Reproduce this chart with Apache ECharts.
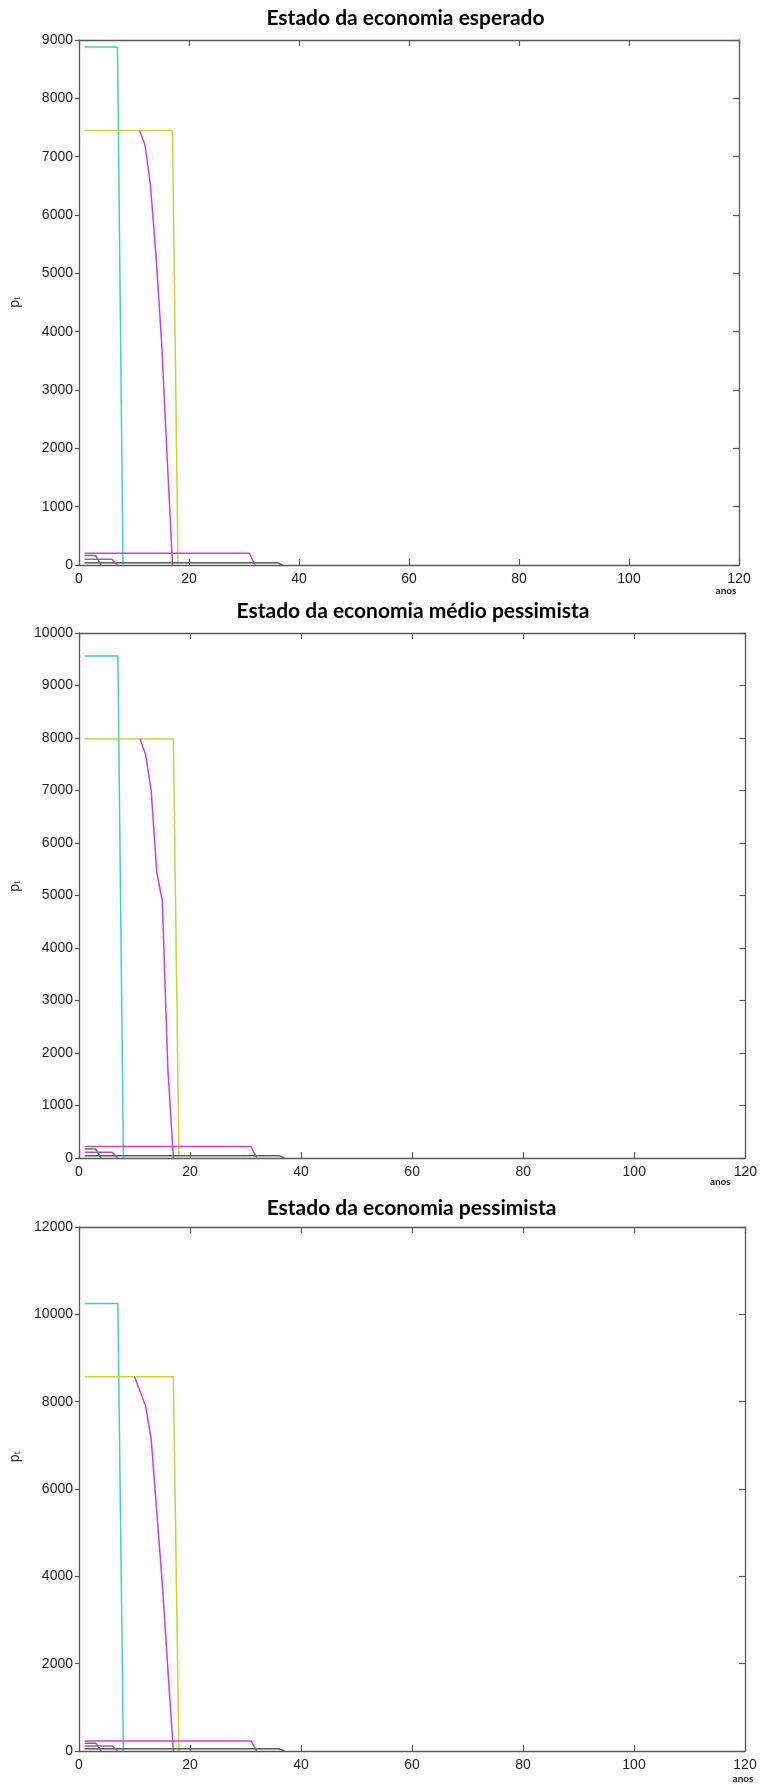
<!DOCTYPE html>
<html>
<head>
<meta charset="utf-8">
<script src="https://cdn.jsdelivr.net/npm/echarts@6/dist/echarts.min.js"></script>
<style>
  html, body { margin: 0; padding: 0; background: #fff; }
  #main-chart { width: 760px; height: 1787px; }
</style>
</head>
<body>
<div id="main-chart"></div>
<script>
const titles = [
  "Estado da economia esperado",
  "Estado da economia médio pessimista",
  "Estado da economia pessimista"
];
const xName = "anos";
const xMax = 120;
const xStep = 20;
const yMaxes = [9000, 10000, 12000];
const ySteps = [1000, 1000, 2000];

// [ano, pt], one array per line
const cyanEsperado = [[1, 8880], [7, 8880], [8, 0]];
const yellowEsperado = [[1, 7450], [17, 7450], [18, 0]];
const magentaEsperado = [[11, 7450], [12, 7200], [13, 6500], [14, 5300], [15, 3850], [16, 1900], [17, 0]];
const magentaTopEsperado = [[1, 200], [31, 200], [32, 0]];
const magentaLowEsperado = [[1, 100], [6, 100], [7, 0]];
const greenEsperado = [[1, 165], [3, 165], [4, 0]];
const grayEsperado = [[1, 40], [36, 40], [37, 0]];

const cyanMedio = [[1, 9560], [7, 9560], [8, 0]];
const yellowMedio = [[1, 7980], [17, 7980], [18, 0]];
const magentaMedio = [[11, 7980], [12, 7680], [13, 7000], [14, 5450], [15, 4900], [16, 1700], [17, 0]];
const magentaTopMedio = [[1, 220], [31, 220], [32, 0]];
const magentaLowMedio = [[1, 110], [6, 110], [7, 0]];
const greenMedio = [[1, 170], [3, 170], [4, 0]];
const grayMedio = [[1, 45], [36, 45], [37, 0]];

const cyanPessimista = [[1, 10250], [7, 10250], [8, 0]];
const yellowPessimista = [[1, 8570], [17, 8570], [18, 0]];
const magentaPessimista = [[10, 8570], [11, 8240], [12, 7900], [13, 7150], [14, 5500], [15, 3850], [16, 1900], [17, 0]];
const magentaTopPessimista = [[1, 230], [31, 230], [32, 0]];
const magentaLowPessimista = [[1, 115], [6, 115], [7, 0]];
const greenPessimista = [[1, 180], [3, 180], [4, 0]];
const grayPessimista = [[1, 50], [36, 50], [37, 0]];

const lineColors = ["#3fcfcf", "#cfcf3a", "#d040d0", "#d040d0", "#d040d0", "#2f9a2f", "#5a5a5a"];

const panelLines = [
  [cyanEsperado, yellowEsperado, magentaEsperado, magentaTopEsperado, magentaLowEsperado, greenEsperado, grayEsperado],
  [cyanMedio, yellowMedio, magentaMedio, magentaTopMedio, magentaLowMedio, greenMedio, grayMedio],
  [cyanPessimista, yellowPessimista, magentaPessimista, magentaTopPessimista, magentaLowPessimista, greenPessimista, grayPessimista]
];

// plot boxes measured on the reference
const boxes = [
  { left: 72, top: 40, width: 667, height: 525, titleTop: 8, anosGap: -13, anosDrop: 21, ptShift: 0 },
  { left: 79, top: 633, width: 668, height: 525, titleTop: 601, anosGap: -25, anosDrop: 19, ptShift: 18 },
  { left: 78, top: 1227, width: 667, height: 524, titleTop: 1198, anosGap: -2, anosDrop: 23, ptShift: 64 }
];

const frameColor = "#5a5a5a";
const labelFont = { fontFamily: "Liberation Sans", fontSize: 14, color: "#1e1e1e" };
const plain = (v) => String(v);

const chart = echarts.init(document.getElementById("main-chart"));

const graphic = [];
const grid = [];
const xAxis = [];
const yAxis = [];
const series = [];

boxes.forEach((b, i) => {
  graphic.push({
    type: "text",
    x: b.left + b.width / 2,
    y: b.titleTop,
    style: {
      text: titles[i],
      align: "center",
      verticalAlign: "top",
      fontFamily: "Lato",
      fontWeight: "bold",
      fontSize: 21,
      fill: "#000"
    }
  });

  grid.push({ left: b.left, top: b.top, width: b.width, height: b.height, containLabel: false });

  const frame = { show: true, onZero: false, lineStyle: { color: frameColor, width: 1.3 } };

  xAxis.push({
    gridIndex: i, type: "value", min: 0, max: xMax, interval: xStep, position: "bottom",
    axisLine: frame,
    axisTick: { inside: true, length: 6, lineStyle: { color: frameColor, width: 1.2 } },
    axisLabel: Object.assign({ margin: 7, formatter: plain }, labelFont),
    splitLine: { show: false },
    name: xName, nameLocation: "end", nameGap: b.anosGap, nameMoveOverlap: false,
    nameTextStyle: {
      fontFamily: "Lato", fontWeight: "bold", fontSize: 10, color: "#222",
      align: "center", verticalAlign: "top", padding: [b.anosDrop, 0, 0, 0]
    }
  });
  xAxis.push({
    gridIndex: i, type: "value", min: 0, max: xMax, interval: xStep, position: "top",
    axisLine: frame,
    axisTick: { inside: true, length: 6, lineStyle: { color: frameColor, width: 1.2 } },
    axisLabel: { show: false },
    splitLine: { show: false }
  });

  yAxis.push({
    gridIndex: i, type: "value", min: 0, max: yMaxes[i], interval: ySteps[i], position: "left",
    axisLine: frame,
    axisTick: { inside: false, length: 4, lineStyle: { color: frameColor, width: 1.2 } },
    axisLabel: Object.assign({ margin: 6, formatter: plain }, labelFont),
    splitLine: { show: false },
    name: "{p|p}{t|t}", nameLocation: "middle", nameGap: 57, nameRotate: 90,
    nameTextStyle: {
      color: "#333", align: "center", padding: [0, 0, 0, b.ptShift],
      rich: {
        p: { fontFamily: "Liberation Sans", fontSize: 14, color: "#333" },
        t: { fontFamily: "Liberation Sans", fontSize: 9, color: "#333", verticalAlign: "bottom" }
      }
    }
  });
  yAxis.push({
    gridIndex: i, type: "value", min: 0, max: yMaxes[i], interval: ySteps[i], position: "right",
    axisLine: frame,
    axisTick: { inside: true, length: 6, lineStyle: { color: frameColor, width: 1.2 } },
    axisLabel: { show: false },
    splitLine: { show: false }
  });

  panelLines[i].forEach((pts, k) => {
    series.push({
      type: "line",
      xAxisIndex: 2 * i,
      yAxisIndex: 2 * i,
      data: pts,
      symbol: "none",
      lineStyle: { color: lineColors[k], width: 1.5 },
      silent: true
    });
  });
});

chart.setOption({
  animation: false,
  backgroundColor: "#fff",
  graphic,
  grid,
  xAxis,
  yAxis,
  series
});

window.addEventListener("resize", () => {
  chart.resize();
});
</script>
</body>
</html>
